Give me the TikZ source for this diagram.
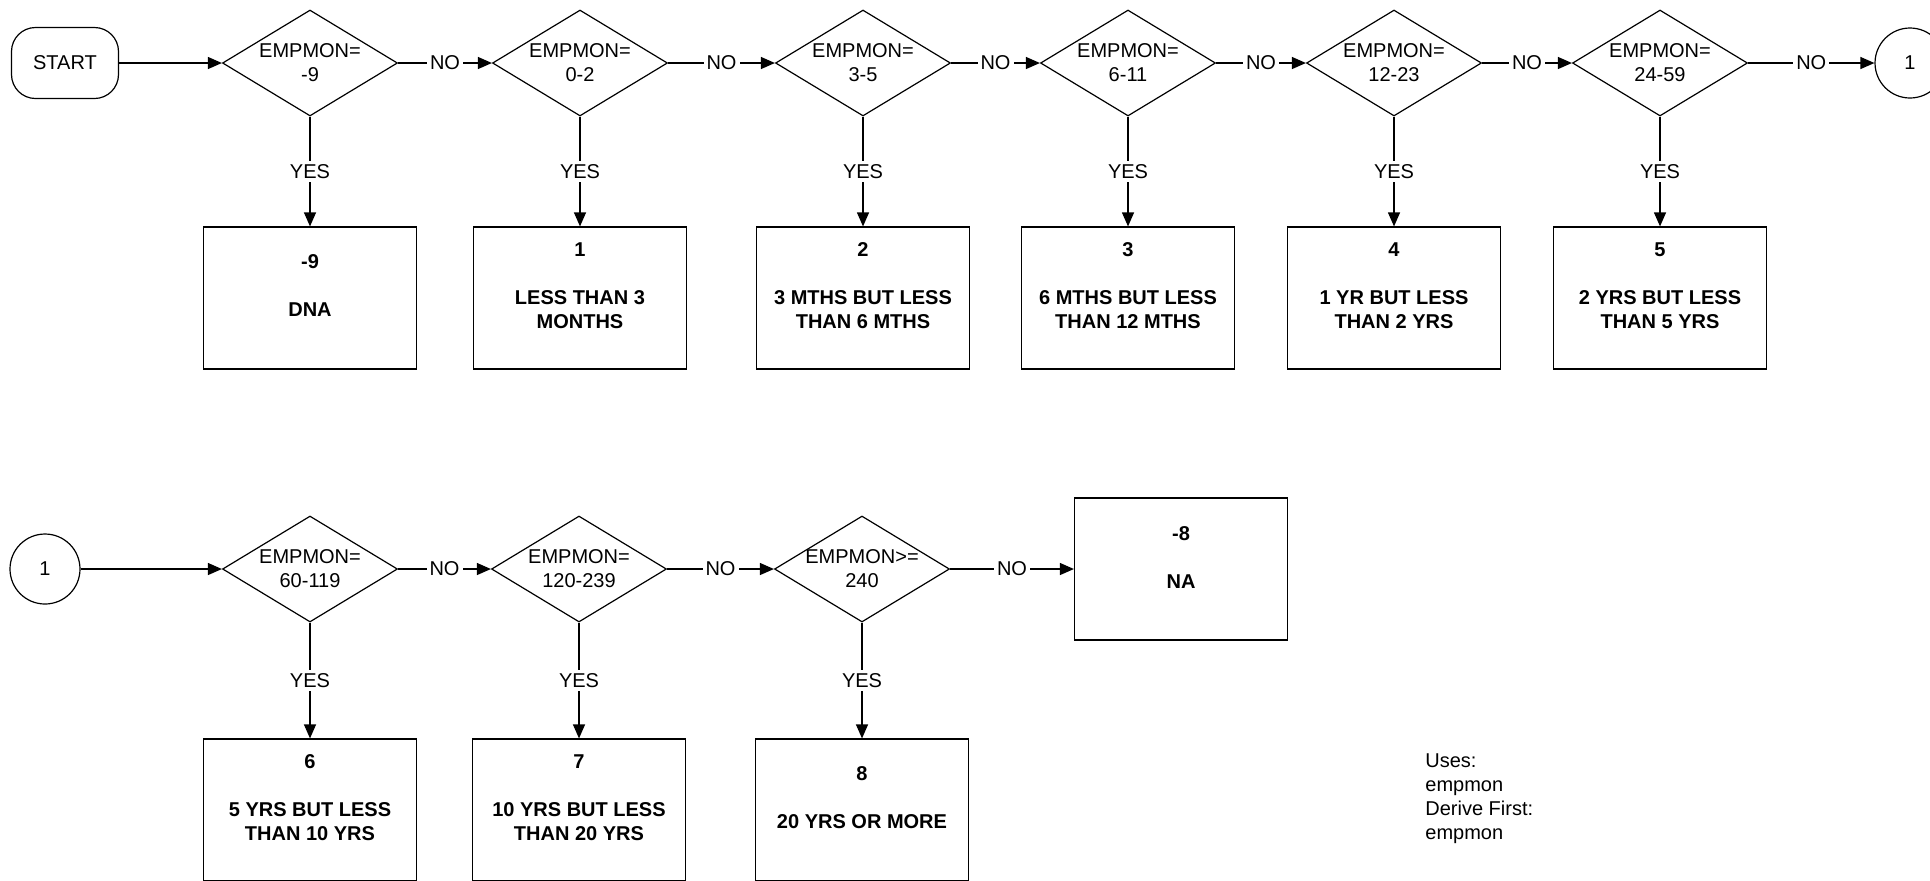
\documentclass[tikz,border=0pt]{standalone}
\usepackage{fontspec}
\setmainfont{Liberation Sans}
\usetikzlibrary{shapes.geometric,arrows.meta}
\begin{document}
\begin{tikzpicture}[x=0.5pt,y=-0.5pt,
  every node/.style={font=\fontsize{10}{12}\selectfont},
  ln/.style={draw=black, line width=0.6pt},
  arr/.style={ln, -{Triangle[length=7pt,width=6pt]}},
  dia/.style={diamond, draw, line width=0.6pt, minimum width=87.5pt, minimum height=53pt, inner sep=0pt},
  dtext/.style={align=center, inner sep=0pt},
  outbox/.style={rectangle, draw, line width=0.6pt, minimum width=106.5pt, minimum height=71pt, inner sep=0pt},
  btext/.style={align=center, font=\fontsize{10}{12}\selectfont\bfseries, inner sep=0pt},
  lbl/.style={fill=white, inner sep=1.5pt},
  conn/.style={circle, draw, line width=0.6pt, minimum size=35pt, inner sep=0pt},
  term/.style={rectangle, rounded corners=12pt, draw, line width=0.6pt, minimum width=53.5pt, minimum height=35.5pt}
]
\useasboundingbox (0,0) rectangle (1930,880);

% ---- Row 1 ----
\node[term] (start) at (65,63) {START};
\node[dia] (d1) at (310,63) {};
\node[dtext] (d1t) at (d1.center) {EMPMON=\\-9};
\node[dia] (d2) at (580,63) {};
\node[dtext] (d2t) at (d2.center) {EMPMON=\\0-2};
\node[dia] (d3) at (863,63) {};
\node[dtext] (d3t) at (d3.center) {EMPMON=\\3-5};
\node[dia] (d4) at (1128,63) {};
\node[dtext] (d4t) at (d4.center) {EMPMON=\\6-11};
\node[dia] (d5) at (1394,63) {};
\node[dtext] (d5t) at (d5.center) {EMPMON=\\12-23};
\node[dia] (d6) at (1660,63) {};
\node[dtext] (d6t) at (d6.center) {EMPMON=\\24-59};
\node[conn] (c1) at (1910,63) {1};

\node[outbox] (b1) at (310,298) {};
\node[btext] (b1t) at ([yshift=6pt]b1.center) {-9\\[12pt]DNA};
\node[outbox] (b2) at (580,298) {};
\node[btext] (b2t) at ([yshift=6pt]b2.center) {1\\[12pt]LESS THAN 3\\MONTHS};
\node[outbox] (b3) at (863,298) {};
\node[btext] (b3t) at ([yshift=6pt]b3.center) {2\\[12pt]3 MTHS BUT LESS\\THAN 6 MTHS};
\node[outbox] (b4) at (1128,298) {};
\node[btext] (b4t) at ([yshift=6pt]b4.center) {3\\[12pt]6 MTHS BUT LESS\\THAN 12 MTHS};
\node[outbox] (b5) at (1394,298) {};
\node[btext] (b5t) at ([yshift=6pt]b5.center) {4\\[12pt]1 YR BUT LESS\\THAN 2 YRS};
\node[outbox] (b6) at (1660,298) {};
\node[btext] (b6t) at ([yshift=6pt]b6.center) {5\\[12pt]2 YRS BUT LESS\\THAN 5 YRS};

\draw[arr] (start) -- (d1.west);
\draw[arr] (d1.east) -- node[lbl] (n1) {NO} (d2.west);
\draw[arr] (d2.east) -- node[lbl] (n2) {NO} (d3.west);
\draw[arr] (d3.east) -- node[lbl] (n3) {NO} (d4.west);
\draw[arr] (d4.east) -- node[lbl] (n4) {NO} (d5.west);
\draw[arr] (d5.east) -- node[lbl] (n5) {NO} (d6.west);
\draw[arr] (d6.east) -- node[lbl] (n6) {NO} (c1.west);

\draw[arr] (d1.south) -- node[lbl] (y1) {YES} (b1.north);
\draw[arr] (d2.south) -- node[lbl] (y2) {YES} (b2.north);
\draw[arr] (d3.south) -- node[lbl] (y3) {YES} (b3.north);
\draw[arr] (d4.south) -- node[lbl] (y4) {YES} (b4.north);
\draw[arr] (d5.south) -- node[lbl] (y5) {YES} (b5.north);
\draw[arr] (d6.south) -- node[lbl] (y6) {YES} (b6.north);

% ---- Row 2 ----
\node[conn] (c2) at (45,569) {1};
\node[dia] (d7) at (310,569) {};
\node[dtext] (d7t) at (d7.center) {EMPMON=\\60-119};
\node[dia] (d8) at (579,569) {};
\node[dtext] (d8t) at (d8.center) {EMPMON=\\120-239};
\node[dia] (d9) at (862,569) {};
\node[dtext] (d9t) at (d9.center) {EMPMON>=\\240};
\node[outbox] (bna) at (1181,569) {};
\node[btext] (bnat) at ([yshift=6pt]bna.center) {-8\\[12pt]NA};

\node[outbox] (b7) at (310,810) {};
\node[btext] (b7t) at ([yshift=6pt]b7.center) {6\\[12pt]5 YRS BUT LESS\\THAN 10 YRS};
\node[outbox] (b8) at (579,810) {};
\node[btext] (b8t) at ([yshift=6pt]b8.center) {7\\[12pt]10 YRS BUT LESS\\THAN 20 YRS};
\node[outbox] (b9) at (862,810) {};
\node[btext] (b9t) at ([yshift=6pt]b9.center) {8\\[12pt]20 YRS OR MORE};

\draw[arr] (c2) -- (d7.west);
\draw[arr] (d7.east) -- node[lbl] (n7) {NO} (d8.west);
\draw[arr] (d8.east) -- node[lbl] (n8) {NO} (d9.west);
\draw[arr] (d9.east) -- node[lbl] (n9) {NO} (bna.west);

\draw[arr] (d7.south) -- node[lbl] (y7) {YES} (b7.north);
\draw[arr] (d8.south) -- node[lbl] (y8) {YES} (b8.north);
\draw[arr] (d9.south) -- node[lbl] (y9) {YES} (b9.north);

\node[align=left, anchor=west, inner sep=0pt] (notes) at (1425,799) {Uses:\\empmon\\Derive First:\\empmon};
\end{tikzpicture}
\end{document}
